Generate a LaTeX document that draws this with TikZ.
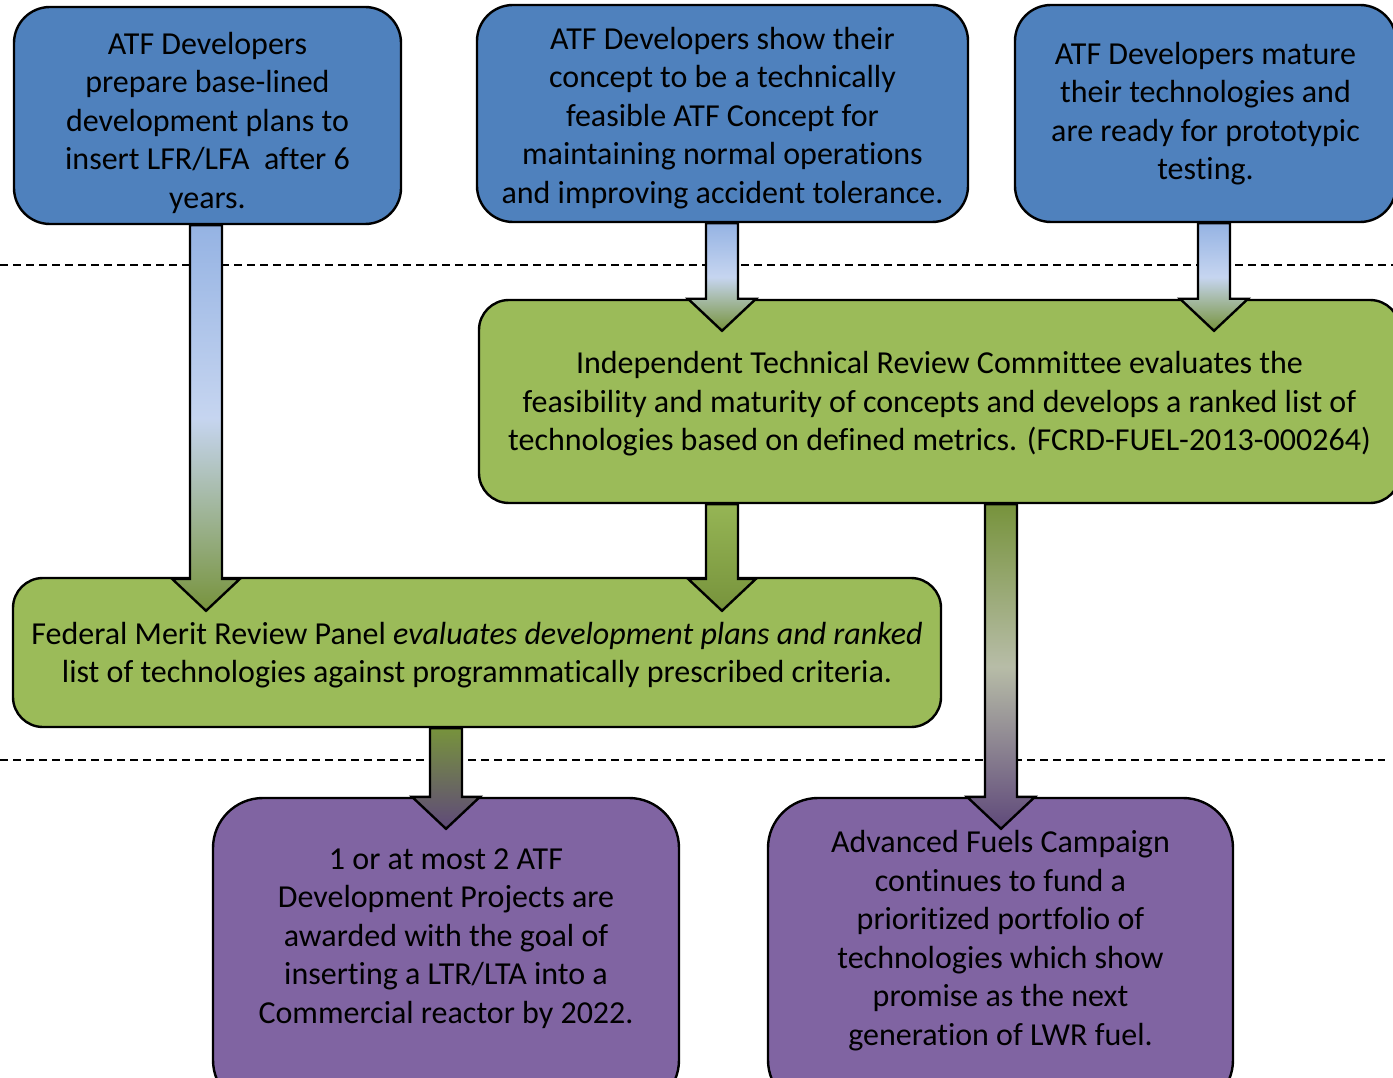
\documentclass[tikz,border=0pt]{standalone}
\usepackage{fontspec}
\setmainfont[Ligatures=NoCommon]{Carlito}
\usetikzlibrary{calc}
\definecolor{bluebox}{HTML}{4F81BD}
\definecolor{greenbox}{HTML}{9BBB59}
\definecolor{purplebox}{HTML}{8064A2}
\definecolor{arrblue}{HTML}{95B3E3}
\definecolor{arrpale}{HTML}{C6D5F0}
\definecolor{arrgreen}{HTML}{77933C}
\definecolor{arrpalegreen}{HTML}{C3D69B}
\definecolor{arrpurple}{HTML}{5F497A}
\tikzset{
  boxbase/.style={draw=black, line width=2.4pt, align=center, inner sep=0pt,
    font=\fontsize{32}{38.5}\selectfont},
  bbox/.style={boxbase, fill=bluebox, rounded corners=36pt},
  gbox/.style={boxbase, fill=greenbox, rounded corners=30pt},
  pbox/.style={boxbase, fill=purplebox, rounded corners=50pt},
  sepline/.style={draw=black, line width=2pt, dash pattern=on 8pt off 5pt},
  arrbase/.style={draw=black, line width=2.4pt, line join=miter},
  bluegreen/.style={arrbase, top color=arrblue, bottom color=arrgreen, middle color=arrpale},
  greengreen/.style={arrbase, top color=greenbox!85!arrgreen, bottom color=arrgreen},
  greenpurple/.style={arrbase, top color=arrgreen, bottom color=arrpurple, middle color=arrpalegreen!70!arrpurple!80!white},
  greenpurpleshort/.style={arrbase, top color=arrgreen, bottom color=arrpurple},
}
\newcommand\blockarr[3]{%
  \path[#3] let \p1=(#1), \p2=(#2) in
    (\x1-16pt,\y1) -- (\x1-16pt,\y2+32pt) -- (\x1-34pt,\y2+32pt) -- (\x1,\y2)
    -- (\x1+34pt,\y2+32pt) -- (\x1+16pt,\y2+32pt) -- (\x1+16pt,\y1) -- cycle;}
\begin{document}
\begin{tikzpicture}[x=1pt,y=-1pt]
\useasboundingbox (0,0) rectangle (1393,1078);
\fill[white] (0,0) rectangle (1393,1078);
% separators
\coordinate (s1a) at (0,265);
\coordinate (s1b) at (1393,265);
\coordinate (s2a) at (0,760);
\coordinate (s2b) at (1385,760);
\draw[sepline] (s1a) -- (s1b);
\draw[sepline] (s2a) -- (s2b);
% top row
\node[bbox, minimum width=387pt, minimum height=217pt] (A) at (207.5,115.5)
  {\rule{0pt}{37pt}ATF Developers\\ prepare base-lined\\ development plans to\\ insert LFR/LFA\ \ after 6\\ years.};
\node[bbox, minimum width=491pt, minimum height=217pt] (B) at (722.5,113.5)
  {\rule{0pt}{31pt}ATF Developers show their\\ concept to be a technically\\ feasible ATF Concept for\\ maintaining normal operations\\ and improving accident tolerance.};
\node[bbox, minimum width=381pt, minimum height=217pt] (C) at (1205.5,113.5)
  {ATF Developers mature\\ their technologies and\\ are ready for prototypic\\ testing.};
% middle
\node[gbox, minimum width=921pt, minimum height=203pt] (D) at (939.5,401.5)
  {\rule{0pt}{27pt}Independent Technical Review Committee evaluates the\\ feasibility and maturity of concepts and develops a ranked list of\\ technologies based on defined metrics. (FCRD-FUEL-2013-000264)};
\node[gbox, minimum width=928pt, minimum height=149pt] (E) at (477,652.5)
  {\rule{0pt}{27pt}Federal Merit Review Panel \textit{evaluates development plans and ranked}\\ list of technologies against programmatically prescribed criteria.};
% bottom
\node[pbox, minimum width=466pt, minimum height=312pt] (F) at (446,954)
  {1 or at most 2 ATF\\ Development Projects are\\ awarded with the goal of\\ inserting a LTR/LTA into a\\ Commercial reactor by 2022.\rule[-36pt]{0pt}{1pt}};
\node[pbox, minimum width=465pt, minimum height=312pt] (G) at (1000.5,954)
  {Advanced Fuels Campaign\\ continues to fund a\\ prioritized portfolio of\\ technologies which show\\ promise as the next\\ generation of LWR fuel.\rule[-32pt]{0pt}{1pt}};
% arrows
\blockarr{$(A.south)+(-1.5,0)$}{$(A.south |- E.north)+(0,34)$}{bluegreen}
\blockarr{$(B.south)+(-0.5,0)$}{$(B.south |- D.north)+(0,32)$}{bluegreen}
\blockarr{$(C.south)+(8.5,0)$}{$(C.south |- D.north)+(8.5,32)$}{bluegreen}
\blockarr{$(D.south)+(-217.5,0)$}{$(D.south |- E.north)+(-217.5,34)$}{greengreen}
\blockarr{$(D.south)+(61.5,0)$}{$(D.south |- G.north)+(61.5,32)$}{greenpurple}
\blockarr{$(E.south)+(-31,0)$}{$(E.south |- F.north)+(-31,32)$}{greenpurpleshort}
\end{tikzpicture}
\end{document}
